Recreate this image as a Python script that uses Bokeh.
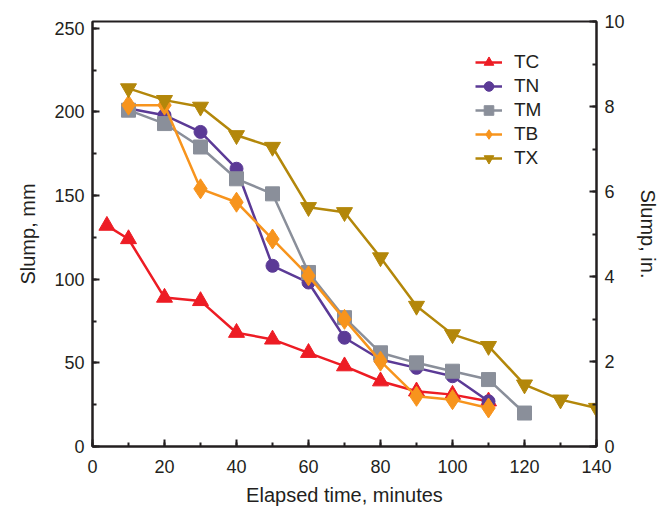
from bokeh.plotting import figure
from bokeh.models import Range1d, LinearAxis, SingleIntervalTicker, Legend
from bokeh.embed import file_html
from bokeh.resources import INLINE

# Data (elapsed time in minutes, slump in mm)
tc_t = [4, 10, 20, 30, 40, 50, 60, 70, 80, 90, 100, 110]
tc_v = [132, 124, 89, 87, 68, 64, 56, 48, 39, 33, 31, 27]

tn_t = [10, 20, 30, 40, 50, 60, 70, 80, 90, 100, 110]
tn_v = [202, 198, 188, 166, 108, 98, 65, 52, 47, 42, 27]

tm_t = [10, 20, 30, 40, 50, 60, 70, 80, 90, 100, 110, 120]
tm_v = [201, 193, 179, 160, 151, 104, 77, 56, 50, 45, 40, 20]

tb_t = [10, 20, 30, 40, 50, 60, 70, 80, 90, 100, 110]
tb_v = [204, 204, 154, 146, 124, 102, 76, 51, 30, 28, 23]

tx_t = [10, 20, 30, 40, 50, 60, 70, 80, 90, 100, 110, 120, 130, 140]
tx_v = [214, 207, 203, 186, 179, 143, 140, 113, 84, 67, 60, 37, 28, 23]

FONT = "Liberation Sans"
TXT = "#231f20"
FS = "18px"
FL = "20px"

p = figure(width=661, height=508, output_backend="svg", toolbar_location=None,
           x_range=Range1d(0, 140), y_range=Range1d(0, 254),
           min_border_left=92, min_border_right=65, min_border_top=21, min_border_bottom=61)
p.xgrid.visible = False
p.ygrid.visible = False
p.outline_line_color = TXT
p.outline_line_width = 2
p.outline_line_alpha = 1

p.extra_y_ranges = {"in": Range1d(0, 10)}
right = LinearAxis(y_range_name="in", axis_label="Slump, in.",
                   ticker=SingleIntervalTicker(interval=2, num_minor_ticks=2))
p.add_layout(right, "right")

p.xaxis.ticker = SingleIntervalTicker(interval=20, num_minor_ticks=2)
p.yaxis[0].ticker = SingleIntervalTicker(interval=50, num_minor_ticks=2)
p.xaxis.axis_label = "Elapsed time, minutes"
p.yaxis[0].axis_label = "Slump, mm"

for ax in p.axis:
    ax.axis_line_color = TXT
    ax.axis_line_width = 2
    ax.major_tick_line_color = TXT
    ax.minor_tick_line_color = TXT
    ax.major_tick_line_width = 2
    ax.minor_tick_line_width = 2
    ax.major_tick_in = 7
    ax.major_tick_out = 0
    ax.minor_tick_in = 4
    ax.minor_tick_out = 0
    ax.major_label_text_font = FONT
    ax.major_label_text_font_size = FS
    ax.major_label_text_color = TXT
    ax.axis_label_text_font = FONT
    ax.axis_label_text_font_size = FL
    ax.axis_label_text_font_style = "normal"
    ax.axis_label_text_color = TXT
    ax.major_label_standoff = 8

p.xaxis.major_label_standoff = 13
p.xaxis.axis_label_standoff = 8
p.yaxis[0].axis_label_standoff = 12
right.axis_label_standoff = 9

series = [
    ("TC", tc_t, tc_v, "#ed1c24", "triangle", 16),
    ("TN", tn_t, tn_v, "#5b3a96", "circle", 13),
    ("TM", tm_t, tm_v, "#8a8f9a", "square", 14),
    ("TB", tb_t, tb_v, "#f7941d", "diamond", 20),
    ("TX", tx_t, tx_v, "#b3870a", "inverted_triangle", 16),
]

items = []
for name, t, v, col, mk, sz in series:
    ln = p.line(t, v, line_color=col, line_width=2.5)
    sc = p.scatter(t, v, marker=mk, size=sz, fill_color=col, line_color=col)
    items.append((name, [ln, sc]))

legend = Legend(items=items, location=(383, 276), padding=0, margin=0,
                spacing=0, glyph_width=27, glyph_height=24, label_height=24,
                label_standoff=12, border_line_alpha=0, background_fill_alpha=0,
                label_text_font=FONT, label_text_font_size="19px", label_text_color=TXT)
p.add_layout(legend, "center")

open("out.html", "w").write(file_html(p, INLINE))
